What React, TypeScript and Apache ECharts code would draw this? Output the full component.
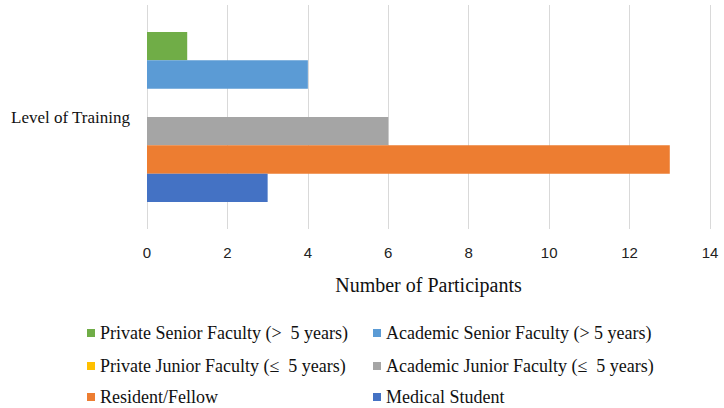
import React, { useEffect, useRef } from "react";
import * as echarts from "echarts";

const categories = ["Level of Training"];
const seriesNames = [
  "Private Senior Faculty (>  5 years)",
  "Academic Senior Faculty (> 5 years)",
  "Private Junior Faculty (≤  5 years)",
  "Academic Junior Faculty (≤  5 years)",
  "Resident/Fellow",
  "Medical Student",
];
const seriesValues = [1, 4, 0, 6, 13, 3];
const seriesColors = ["#70AD47", "#5B9BD5", "#FFC000", "#A5A5A5", "#ED7D31", "#4472C4"];
const xMin = 0;
const xMax = 14;
const xInterval = 2;

const serif = "'Liberation Serif', 'Times New Roman', serif";
const tickFont = "'Liberation Sans Narrow', 'Liberation Sans', sans-serif";

export default function App() {
  const ref = useRef<HTMLDivElement>(null);
  useEffect(() => {
    if (!ref.current) return;
    const chart = echarts.init(ref.current, undefined, { renderer: "svg" });
    const colLeft = [87, 373];
    const rowTop = [324, 357, 388];
    const legends = seriesNames.map((name, i) => ({
      orient: "horizontal",
      left: colLeft[i % 2],
      top: rowTop[Math.floor(i / 2)],
      padding: 0,
      itemWidth: 8,
      itemHeight: 8,
      icon: "rect",
      data: [name],
      textStyle: { fontFamily: serif, fontSize: 18, color: "#111", lineHeight: 18 },
    }));
    chart.setOption({
      animation: false,
      grid: { left: 147, right: 14, top: 5, bottom: 179, containLabel: false },
      legend: legends,
      xAxis: {
        type: "value",
        min: xMin,
        max: xMax,
        interval: xInterval,
        axisLine: { show: false },
        axisTick: { show: false },
        splitLine: { show: true, lineStyle: { color: "#d9d9d9", width: 1 } },
        axisLabel: { fontFamily: tickFont, fontSize: 15, color: "#222", margin: 16 },
        name: "Number of Participants",
        nameLocation: "middle",
        nameGap: 46,
        nameTextStyle: { fontFamily: serif, fontSize: 20, color: "#111" },
      },
      yAxis: {
        type: "category",
        data: categories,
        axisLine: { show: false },
        axisTick: { show: false },
        axisLabel: { fontFamily: serif, fontSize: 17, color: "#111", margin: 17 },
      },
      series: seriesNames.map((name, i) => ({
        name,
        type: "bar",
        data: [seriesValues[i]],
        itemStyle: { color: seriesColors[i] },
        barGap: "0%",
        barCategoryGap: "24%",
      })),
    });
    return () => chart.dispose();
  }, []);
  return (
    <div
      ref={ref}
      style={{ position: "fixed", left: 0, top: 0, width: 724, height: 408, background: "#fff" }}
    />
  );
}
